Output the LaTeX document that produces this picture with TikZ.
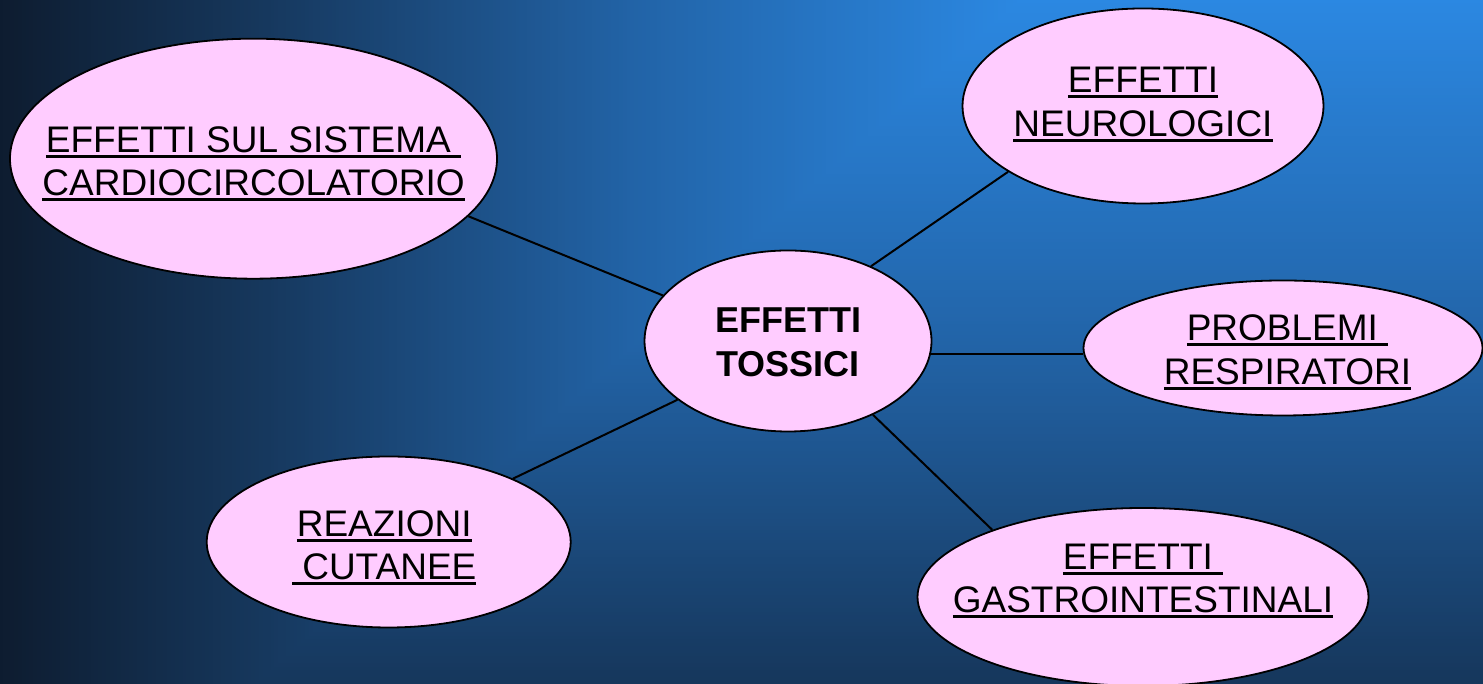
\documentclass[tikz,border=0pt]{standalone}
\usepackage{fontspec}
\setmainfont{Liberation Sans}
\usetikzlibrary{shapes.geometric}
\definecolor{bgA}{HTML}{2B88E2}
\definecolor{bgB}{HTML}{2264A8}
\definecolor{bgC}{HTML}{16375C}
\definecolor{bgD}{HTML}{0D1B2E}
\definecolor{bubble}{HTML}{FFCCFF}
\newcommand\ulx[1]{\setbox0\hbox{#1}\rlap{\rule[-5.6pt]{\wd0}{3pt}}\box0}
\tikzset{
  bub/.style={ellipse, draw=black, line width=1.8pt, fill=bubble, inner sep=0pt},
  txt/.style={align=center, font=\fontsize{37}{43.5}\selectfont, text=black, inner sep=0pt},
  btxt/.style={align=center, font=\fontsize{36}{44}\selectfont\bfseries, text=black, inner sep=0pt},
  link/.style={draw=black, line width=2pt}
}
\begin{document}
\begin{tikzpicture}[x=1pt,y=1pt]
\useasboundingbox (0,0) rectangle (1483,684);
% background gradient
\begin{scope}
\clip (0,0) rectangle (1483,684);
\foreach \i in {0,...,270}{
  \pgfmathsetmacro\s{1.35-\i*0.005}
  \ifdim\s pt<0.5pt
    \pgfmathsetmacro\p{\s/0.5*100}
    \colorlet{tmpc}{bgB!\p!bgA}
  \else
    \ifdim\s pt<1pt
      \pgfmathsetmacro\p{(\s-0.5)/0.5*100}
      \colorlet{tmpc}{bgC!\p!bgB}
    \else
      \pgfmathsetmacro\p{(\s-1)/0.35*100}
      \colorlet{tmpc}{bgD!\p!bgC}
    \fi
  \fi
  \fill[tmpc] ({1020-765*\s},{684-684*\s}) rectangle (1483,684);
}
\end{scope}
% bubbles
\node[bub, minimum width=287, minimum height=181] (c) at (788,343) {};
\node[bub, minimum width=487, minimum height=240] (card) at (253.5,525.3) {};
\node[bub, minimum width=361, minimum height=195] (neuro) at (1143,578) {};
\node[bub, minimum width=399, minimum height=135] (resp) at (1283,336) {};
\node[bub, minimum width=364, minimum height=171] (cute) at (388.7,142) {};
\node[bub, minimum width=451, minimum height=178] (gast) at (1143,87) {};
% links
\draw[link] (c.160.45) -- (card.-15.68);
\draw[link] (c.42.24) -- (neuro.206.95);
\draw[link] (c.-5.84) -- (c.-5.84 -| resp.west);
\draw[link] (c.208.37) -- (cute.27.53);
\draw[link] (c.-41.48) -- (gast.156.1);
% texts
\node[btxt] (tc) at ([yshift=-1]c.center) {EFFETTI\\TOSSICI};
\node[txt] (tcard) at ([yshift=-5]card.center) {\ulx{EFFETTI SUL SISTEMA\ }\\\ulx{CARDIOCIRCOLATORIO}};
\node[txt] (tneuro) at ([yshift=1.5]neuro.center) {\ulx{EFFETTI}\\\ulx{NEUROLOGICI}};
\node[txt] (tresp) at ([xshift=4.5,yshift=-4.5]resp.center) {\ulx{PROBLEMI\ }\\\ulx{RESPIRATORI}};
\node[txt] (tcute) at ([xshift=-4.5,yshift=-6]cute.center) {\ulx{REAZIONI}\\\ulx{\ CUTANEE}};
\node[txt] (tgast) at ([yshift=16]gast.center) {\ulx{EFFETTI\ }\\\ulx{GASTROINTESTINALI}};
\end{tikzpicture}
\end{document}
